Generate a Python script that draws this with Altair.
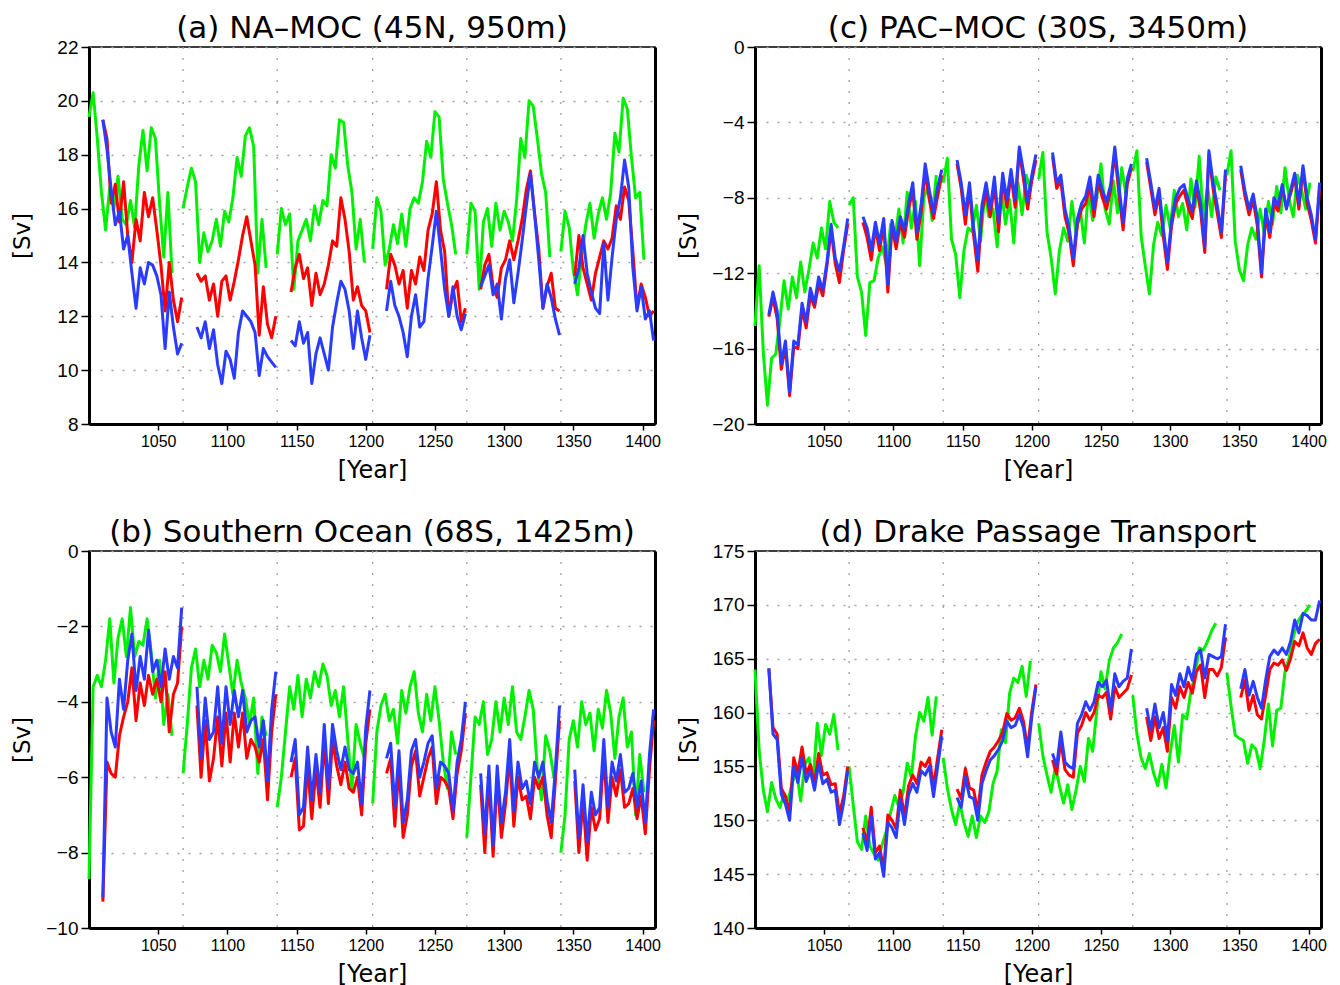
import altair as alt
import pandas as pd

STEP = 3
GREEN_STARTS = [1000, 1068, 1136, 1205, 1273, 1341]
RB_STARTS = [1010, 1078, 1146, 1215, 1283, 1351]
BOUNDARIES = [1068, 1136, 1205, 1273, 1341]
X_TICKS = [1050, 1100, 1150, 1200, 1250, 1300, 1350, 1400]

# (a) NA-MOC
A_GREEN = [
    [19.4, 20.3, 18.6, 16.6, 15.2, 16.8, 16.0, 17.2, 15.6, 15.4, 16.3, 15.3, 17.6, 18.9, 17.4, 19.0, 18.6, 16.2, 14.2, 16.6, 13.6],
    [16.0, 16.8, 17.5, 17.0, 14.0, 15.1, 14.4, 14.8, 15.6, 14.6, 15.9, 15.5, 16.4, 17.9, 17.2, 18.7, 19.0, 18.3, 13.6, 15.6, 13.8],
    [14.3, 16.0, 15.4, 15.8, 13.0, 14.8, 15.2, 15.6, 14.8, 16.1, 15.4, 16.3, 16.1, 18.0, 17.5, 19.3, 19.2, 17.6, 16.6, 14.5, 15.6, 14.0],
    [14.5, 16.4, 15.9, 13.9, 14.5, 15.4, 14.7, 15.8, 14.6, 16.0, 16.4, 16.2, 17.0, 18.5, 17.9, 19.6, 19.4, 17.1, 16.2, 15.4, 14.3],
    [14.3, 16.2, 15.9, 13.0, 15.5, 16.0, 14.6, 16.2, 15.2, 15.9, 15.5, 14.8, 16.3, 18.6, 17.9, 20.0, 19.8, 18.6, 17.3, 16.6, 14.2],
    [14.4, 15.9, 15.3, 13.7, 12.8, 14.2, 15.4, 16.2, 14.9, 15.8, 16.4, 15.6, 16.6, 18.8, 18.1, 20.1, 19.7, 17.9, 16.4, 16.6, 14.1],
]
A_RED = [
    [19.3, 18.6, 16.2, 16.9, 15.5, 17.0, 15.0, 14.0, 15.6, 14.8, 16.6, 15.7, 16.4, 15.2, 13.9, 12.2, 14.0, 12.6, 11.8, 12.7],
    [13.6, 13.3, 13.5, 12.6, 13.2, 12.0, 13.3, 13.5, 12.6, 13.3, 14.1, 15.0, 15.7, 14.8, 13.9, 11.3, 13.1, 11.7, 11.2, 12.0],
    [12.9, 13.8, 14.3, 13.4, 13.8, 12.4, 13.6, 12.8, 13.2, 13.9, 14.8, 14.6, 16.4, 15.6, 14.4, 12.6, 13.1, 12.4, 12.2, 11.4],
    [13.0, 14.3, 13.9, 13.2, 13.7, 12.3, 13.7, 13.2, 14.2, 13.7, 15.2, 15.8, 17.0, 15.2, 14.4, 12.0, 12.9, 13.3, 11.8, 12.3],
    [13.0, 13.9, 14.3, 13.1, 12.7, 13.8, 14.1, 14.8, 14.1, 14.8, 15.6, 16.7, 17.4, 15.8, 14.5, 12.3, 13.1, 13.6, 12.3, 12.2],
    [13.5, 15.0, 13.8, 13.2, 12.6, 13.6, 14.2, 14.8, 14.5, 14.9, 16.1, 15.6, 16.8, 16.3, 14.4, 12.3, 13.2, 12.7, 12.0, 12.2],
]
A_BLUE = [
    [19.3, 18.2, 16.7, 15.4, 15.9, 14.5, 15.0, 13.6, 12.3, 13.8, 13.2, 14.0, 13.9, 13.5, 12.8, 10.8, 12.9, 11.6, 10.6, 11.0],
    [11.6, 11.2, 11.8, 10.8, 11.5, 10.2, 9.5, 10.7, 10.4, 9.7, 11.4, 12.2, 12.0, 11.8, 11.4, 9.8, 10.8, 10.5, 10.3, 10.1],
    [11.1, 10.9, 11.8, 11.0, 11.4, 9.5, 10.6, 11.2, 10.6, 10.0, 11.6, 12.5, 13.3, 13.0, 12.2, 10.8, 12.2, 11.2, 10.4, 11.3],
    [12.2, 13.3, 12.4, 12.0, 11.4, 10.5, 12.0, 12.8, 11.6, 11.8, 13.4, 14.6, 15.9, 14.5, 13.0, 12.0, 13.1, 12.0, 11.5, 12.1],
    [13.1, 13.5, 13.9, 12.8, 13.2, 11.9, 13.4, 14.1, 12.5, 13.6, 14.8, 16.1, 17.3, 15.8, 14.1, 12.3, 13.2, 12.7, 11.9, 11.3],
    [13.2, 13.8, 15.0, 13.6, 12.9, 12.3, 12.1, 14.7, 12.6, 14.2, 15.6, 16.4, 17.8, 16.8, 13.8, 12.2, 13.1, 11.9, 12.2, 11.1],
]

# (b) Southern Ocean
B_GREEN = [
    [-8.7, -3.6, -3.3, -3.6, -2.9, -1.8, -3.5, -2.3, -1.8, -2.8, -1.5, -2.8, -2.4, -2.5, -1.8, -2.7, -3.9, -2.9, -4.6, -3.8, -4.9],
    [-5.9, -4.6, -3.1, -2.6, -3.6, -2.9, -3.4, -2.5, -2.7, -3.2, -2.2, -3.0, -3.8, -2.9, -3.5, -3.9, -4.6, -3.9, -5.9, -4.4, -4.9],
    [-6.8, -6.0, -4.8, -3.6, -4.2, -3.3, -4.4, -3.4, -3.9, -3.2, -3.6, -3.0, -3.3, -4.1, -3.7, -4.4, -3.6, -5.0, -6.3, -4.6, -5.1, -5.5],
    [-6.7, -4.8, -4.1, -3.8, -4.5, -4.2, -5.1, -3.7, -4.3, -3.6, -3.2, -4.3, -4.8, -3.8, -4.5, -3.6, -4.5, -5.6, -6.3, -4.8, -5.4],
    [-7.6, -6.0, -4.4, -4.6, -4.0, -5.4, -5.0, -4.0, -4.8, -3.9, -4.6, -3.6, -4.8, -5.0, -4.4, -3.7, -4.2, -5.8, -6.6, -4.9, -5.3, -6.0],
    [-8.0, -7.0, -5.0, -4.5, -5.2, -4.0, -4.6, -4.3, -5.3, -4.2, -4.7, -3.7, -4.3, -5.5, -4.4, -3.9, -5.2, -4.8, -7.0, -5.4, -6.4],
]
B_RED = [
    [-9.3, -5.6, -5.9, -6.0, -4.9, -4.4, -4.0, -3.1, -4.5, -3.5, -4.1, -3.3, -3.8, -3.4, -4.0, -3.2, -4.8, -3.8, -3.5, -2.0],
    [-4.1, -6.0, -4.5, -6.1, -5.5, -4.4, -5.7, -4.3, -5.6, -4.3, -5.2, -4.3, -5.5, -5.0, -5.2, -5.6, -5.0, -6.6, -4.8, -3.8],
    [-6.0, -5.5, -7.4, -7.3, -5.7, -7.1, -5.8, -6.8, -5.0, -6.7, -5.0, -5.7, -6.2, -5.6, -6.3, -6.4, -6.0, -7.0, -5.1, -4.2],
    [-5.9, -5.5, -7.3, -5.7, -7.6, -7.0, -5.7, -5.3, -6.5, -6.0, -5.5, -5.2, -6.7, -6.0, -6.1, -6.3, -7.1, -5.9, -5.3, -4.3],
    [-6.2, -8.0, -6.0, -8.1, -6.0, -7.6, -6.7, -5.4, -7.3, -6.0, -6.6, -6.5, -7.1, -6.0, -6.3, -6.0, -7.0, -7.6, -6.1, -4.5],
    [-6.1, -8.0, -6.6, -8.2, -6.8, -7.4, -7.1, -5.4, -7.2, -6.0, -6.5, -5.8, -6.8, -6.7, -6.3, -7.1, -6.5, -7.5, -5.8, -4.5],
]
B_BLUE = [
    [-9.2, -3.9, -4.8, -5.2, -3.4, -4.2, -2.9, -2.2, -3.7, -2.8, -3.4, -2.1, -3.2, -2.9, -3.6, -2.6, -3.4, -2.8, -3.1, -1.5],
    [-3.6, -5.5, -3.9, -5.0, -4.8, -3.6, -5.1, -3.6, -4.6, -3.7, -4.4, -3.7, -4.8, -4.5, -4.4, -5.2, -4.5, -6.1, -4.2, -3.2],
    [-5.6, -5.0, -7.0, -6.8, -5.2, -6.6, -5.4, -6.4, -4.6, -6.3, -4.6, -5.3, -5.8, -5.2, -5.8, -5.9, -5.6, -6.7, -4.7, -3.7],
    [-5.5, -5.1, -6.8, -5.3, -7.2, -6.6, -5.3, -5.0, -6.0, -5.6, -5.1, -4.9, -6.3, -5.6, -5.7, -5.9, -6.9, -5.6, -5.0, -4.0],
    [-5.9, -7.5, -5.7, -7.8, -5.7, -7.2, -6.4, -5.0, -6.9, -5.6, -6.3, -6.1, -6.7, -5.6, -6.0, -5.6, -6.6, -7.2, -5.8, -4.1],
    [-5.8, -7.6, -6.2, -7.7, -6.4, -7.0, -6.8, -5.0, -6.8, -5.6, -6.1, -5.4, -6.4, -6.3, -5.9, -6.8, -6.1, -7.2, -5.4, -4.2],
]

# (c) PAC-MOC
C_GREEN = [
    [-14.8, -11.6, -16.2, -19.0, -16.5, -16.3, -14.5, -12.4, -13.9, -12.2, -13.3, -11.4, -13.0, -11.8, -10.4, -11.2, -9.6, -10.7, -8.2, -9.3, -9.6],
    [-8.4, -8.0, -12.2, -13.0, -15.3, -12.5, -12.4, -11.2, -10.6, -11.6, -9.4, -10.2, -8.6, -10.4, -7.7, -9.6, -8.2, -11.6, -8.0, -7.4, -9.2, -6.8],
    [-7.2, -5.9, -10.2, -11.0, -13.3, -10.8, -9.6, -9.8, -8.4, -10.3, -7.8, -9.0, -8.6, -10.6, -7.5, -9.4, -8.1, -10.4, -7.2, -8.9, -6.8, -7.6],
    [-7.0, -5.6, -9.8, -11.2, -13.1, -10.8, -9.6, -10.3, -8.2, -9.9, -8.6, -10.4, -7.6, -9.2, -8.0, -6.2, -8.6, -9.4, -7.1, -8.8, -6.4, -7.8],
    [-6.6, -5.5, -10.0, -11.6, -13.1, -10.5, -9.3, -10.0, -8.4, -9.6, -7.6, -9.0, -8.3, -9.7, -7.0, -8.5, -5.8, -9.2, -7.4, -9.0, -6.9, -7.6],
    [-6.8, -5.5, -10.3, -11.8, -12.4, -10.5, -9.6, -10.2, -8.6, -9.9, -8.2, -9.4, -7.4, -8.8, -6.4, -8.1, -9.0, -6.8, -7.6, -8.6, -7.2],
]
C_RED = [
    [-14.3, -13.3, -14.4, -17.1, -15.9, -18.5, -15.9, -16.0, -13.9, -14.9, -13.2, -13.8, -12.6, -13.2, -11.6, -9.7, -11.5, -12.5, -10.8, -9.4],
    [-9.3, -10.1, -11.3, -9.6, -10.8, -9.4, -13.0, -9.5, -10.7, -9.3, -10.1, -8.6, -7.6, -10.2, -8.8, -6.6, -8.1, -9.1, -7.9, -6.8],
    [-6.2, -7.5, -9.4, -7.5, -10.0, -11.9, -8.8, -7.6, -9.0, -7.3, -9.8, -7.0, -8.5, -6.8, -8.5, -5.5, -7.0, -8.6, -7.1, -6.0],
    [-5.8, -7.5, -7.1, -9.0, -9.9, -11.6, -9.4, -8.6, -8.3, -7.3, -9.0, -7.1, -8.0, -8.6, -7.6, -5.6, -7.8, -9.7, -7.3, -6.4],
    [-6.1, -7.5, -8.9, -7.8, -10.0, -11.8, -9.5, -8.3, -7.9, -7.6, -8.5, -9.1, -7.4, -8.7, -10.9, -5.7, -7.5, -8.8, -10.1, -6.8],
    [-6.5, -7.9, -8.9, -8.1, -9.5, -12.2, -8.9, -10.1, -8.3, -8.7, -7.5, -8.5, -7.8, -6.9, -8.6, -6.5, -8.3, -9.2, -10.4, -7.5],
]
C_BLUE = [
    [-14.2, -13.0, -14.0, -16.8, -15.6, -18.3, -15.6, -15.8, -13.6, -14.6, -12.8, -13.6, -12.2, -12.9, -11.4, -9.4, -11.2, -11.9, -10.6, -9.1],
    [-9.0, -9.6, -10.8, -9.3, -10.4, -9.1, -12.6, -9.2, -10.3, -9.0, -9.7, -8.3, -7.2, -9.8, -8.4, -6.2, -7.6, -8.8, -7.4, -6.5],
    [-6.0, -7.2, -8.9, -7.2, -9.6, -11.3, -8.4, -7.2, -8.6, -6.9, -9.3, -6.7, -8.1, -6.5, -8.1, -5.3, -6.6, -8.2, -6.8, -5.7],
    [-5.6, -7.2, -6.8, -8.6, -9.6, -11.2, -9.1, -8.3, -7.9, -6.9, -8.6, -6.8, -7.6, -8.2, -7.3, -5.3, -7.4, -9.3, -7.0, -6.2],
    [-5.9, -7.2, -8.6, -7.5, -9.6, -11.4, -9.2, -8.0, -7.5, -7.3, -8.1, -8.7, -7.1, -8.3, -10.6, -5.5, -7.2, -8.4, -9.8, -6.5],
    [-6.3, -7.6, -8.6, -7.8, -9.1, -12.0, -8.6, -9.8, -8.0, -8.4, -7.3, -8.6, -7.6, -6.7, -8.3, -6.3, -8.0, -8.9, -10.2, -7.2],
]

# (d) Drake Passage Transport
D_GREEN = [
    [164.0, 156.5, 152.8, 150.8, 153.5, 152.0, 151.2, 152.5, 151.9, 153.5, 154.6, 151.8, 155.2, 155.8, 153.6, 159.0, 156.0, 158.9, 158.0, 159.8, 156.5],
    [155.0, 151.4, 148.0, 147.3, 150.4, 147.6, 146.9, 146.3, 147.8, 149.0, 150.7, 152.3, 151.2, 152.6, 155.3, 154.0, 157.8, 160.0, 159.2, 161.4, 157.9, 161.5],
    [155.8, 153.0, 151.0, 149.6, 151.6, 149.8, 148.5, 150.4, 148.4, 150.4, 149.8, 150.8, 153.4, 154.6, 158.4, 157.2, 161.8, 163.2, 162.8, 164.3, 161.5, 164.8],
    [159.0, 156.0, 154.2, 152.6, 155.0, 153.2, 151.6, 153.3, 151.0, 152.8, 155.0, 153.6, 157.6, 156.4, 160.2, 163.8, 162.2, 164.8, 166.0, 166.5, 167.3],
    [161.6, 158.0, 155.8, 154.8, 156.2, 154.4, 153.2, 155.2, 153.0, 156.2, 158.8, 155.4, 159.8, 159.4, 162.0, 163.4, 166.0, 165.8, 166.6, 167.6, 168.3],
    [163.7, 160.6, 157.9, 157.6, 157.4, 155.3, 157.0, 156.6, 154.8, 157.4, 160.8, 156.9, 160.2, 160.4, 163.8, 165.1, 167.0, 168.4, 169.0, 169.4, 170.0],
]
D_RED = [
    [164.1, 158.6, 158.0, 153.0, 152.2, 150.8, 155.8, 154.4, 156.8, 154.3, 155.2, 153.4, 156.2, 154.2, 154.4, 153.3, 153.4, 150.6, 152.2, 155.0],
    [149.3, 148.0, 151.2, 147.0, 147.6, 145.4, 150.5, 150.0, 149.2, 152.8, 150.3, 153.2, 154.2, 153.4, 155.4, 155.0, 155.8, 153.1, 155.8, 158.4],
    [152.9, 152.0, 154.8, 153.0, 152.8, 150.8, 154.2, 155.4, 156.4, 156.8, 157.4, 158.2, 159.9, 159.3, 159.5, 160.4, 159.2, 156.6, 160.1, 162.6],
    [155.6, 154.3, 157.4, 154.7, 154.2, 154.0, 158.1, 158.8, 160.0, 159.3, 160.0, 161.6, 161.4, 161.9, 159.4, 162.4, 161.4, 161.8, 162.2, 163.5],
    [159.6, 157.4, 159.6, 157.6, 158.6, 156.4, 161.4, 160.4, 162.4, 161.4, 162.8, 161.8, 163.8, 164.4, 161.4, 164.0, 164.0, 163.4, 164.2, 167.0],
    [161.4, 163.0, 160.2, 161.6, 159.8, 159.4, 161.6, 164.0, 164.6, 164.4, 164.9, 163.9, 165.0, 166.6, 166.2, 167.4, 166.0, 165.4, 166.4, 166.8],
]
D_BLUE = [
    [164.1, 158.0, 157.5, 152.4, 151.5, 150.0, 155.0, 153.5, 155.8, 153.6, 154.6, 152.8, 155.3, 153.4, 153.8, 152.6, 152.8, 149.6, 151.6, 154.6],
    [148.8, 147.2, 150.4, 146.4, 147.0, 144.8, 149.8, 149.3, 148.4, 152.0, 149.6, 152.4, 153.4, 152.6, 154.6, 154.2, 155.0, 152.2, 155.0, 157.8],
    [152.1, 151.2, 154.0, 152.2, 152.0, 150.0, 153.4, 154.6, 155.6, 156.0, 156.6, 157.4, 159.2, 158.6, 158.8, 159.8, 158.6, 155.9, 159.6, 162.4],
    [156.2, 155.0, 158.2, 155.4, 155.0, 154.8, 159.0, 159.8, 161.0, 160.2, 161.0, 162.8, 162.4, 163.0, 160.2, 163.6, 162.4, 162.9, 163.2, 165.9],
    [160.4, 158.4, 160.8, 158.6, 160.0, 157.4, 162.6, 161.6, 163.6, 162.4, 164.2, 163.0, 165.4, 165.8, 163.2, 165.4, 165.2, 165.0, 165.2, 168.2],
    [162.2, 164.0, 161.6, 162.9, 161.4, 160.4, 163.0, 165.2, 165.8, 165.4, 166.0, 165.4, 166.6, 168.6, 167.4, 169.2, 169.0, 168.6, 168.6, 170.4],
]

COLORS = {"green": "#00f000", "red": "#ff0000", "blue": "#2a3cff"}
PW, PH = 566, 377


def frame(green, red, blue):
    rows = []
    for name, segs, starts in (("green", green, GREEN_STARTS),
                               ("red", red, RB_STARTS),
                               ("blue", blue, RB_STARTS)):
        for k, (seg, st) in enumerate(zip(segs, starts)):
            for i, v in enumerate(seg):
                rows.append({"series": name, "seg": k, "year": st + STEP * i, "value": v})
    return pd.DataFrame(rows)


X_SCALE = alt.Scale(domain=[1000, 1409], nice=False, zero=False)
GRID_COLOR = "#a0a0a0"


def panel(title, green, red, blue, ydom, yticks):
    df = frame(green, red, blue)
    ysc = alt.Scale(domain=ydom, nice=False, zero=False)
    xax = alt.Axis(values=X_TICKS, format="d", title="[Year]", grid=False,
                   domainWidth=3, tickSize=6, tickWidth=1.5, labelFontSize=16,
                   labelPadding=3, titleFontSize=24, titleBaseline="top", titleY=34)
    grid = alt.Chart(pd.DataFrame({"year": BOUNDARIES})).mark_rule(
        color=GRID_COLOR, strokeDash=[2, 9], strokeWidth=1.3
    ).encode(x=alt.X("year:Q", scale=X_SCALE, axis=xax))
    layers = [grid]
    for name in ("green", "red", "blue"):
        if name == "green":
            yax = alt.Axis(values=yticks, format="d", title="[Sv]", grid=True,
                           gridColor=GRID_COLOR, gridDash=[2, 9], gridWidth=1.3,
                           domainWidth=3, tickSize=8, tickWidth=1.5,
                           labelFontSize=19, labelPadding=3, titleFontSize=23,
                           titleX=-55)
        elif name == "red":
            yax = alt.Axis(orient="right", labels=False, ticks=False, grid=False,
                           title="", domainWidth=3)
        else:
            yax = None
        layers.append(
            alt.Chart(df[df.series == name]).mark_line(
                color=COLORS[name], strokeWidth=3, strokeJoin="round"
            ).encode(
                x=alt.X("year:Q", scale=X_SCALE, axis=xax),
                y=alt.Y("value:Q", scale=ysc, axis=yax),
                detail="seg:N",
            )
        )
    return alt.layer(*layers).resolve_axis(y="independent").properties(
        width=PW, height=PH,
        title=alt.TitleParams(title, fontSize=31, font="DejaVu Sans",
                              fontWeight="normal", color="black", offset=-7,
                              anchor="middle"),
    )


pa = panel("(a) NA–MOC (45N, 950m)", A_GREEN, A_RED, A_BLUE, [8, 22], [8, 10, 12, 14, 16, 18, 20, 22])
pb = panel("(b) Southern Ocean (68S, 1425m)", B_GREEN, B_RED, B_BLUE, [-10, 0], [-10, -8, -6, -4, -2, 0])
pc = panel("(c) PAC–MOC (30S, 3450m)", C_GREEN, C_RED, C_BLUE, [-20, 0], [-20, -16, -12, -8, -4, 0])
pd_ = panel("(d) Drake Passage Transport", D_GREEN, D_RED, D_BLUE, [140, 175], [140, 145, 150, 155, 160, 165, 170, 175])

row1 = alt.hconcat(pa, pc, spacing=14)
row2 = alt.hconcat(pb, pd_, spacing=14)
chart = alt.vconcat(row1, row2, spacing=33).properties(
    padding={"left": 2, "top": 4, "right": 0, "bottom": 0}
).configure_view(
    stroke="black", strokeWidth=1.5
).configure_axis(
    domainColor="black", tickColor="black", labelColor="black", titleColor="black",
    labelFont="Liberation Sans", titleFont="DejaVu Sans", titleFontWeight="normal"
)

chart.save("out.html", embed_options={"renderer": "svg", "actions": False})
